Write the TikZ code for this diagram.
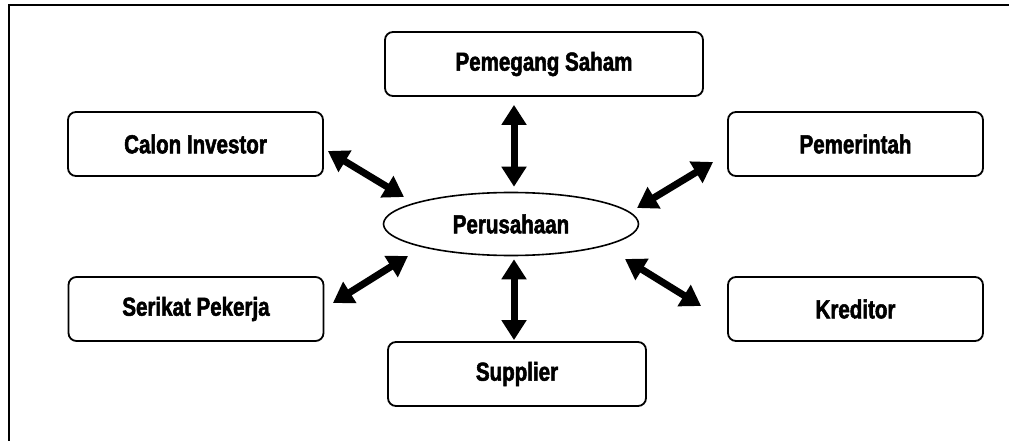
\documentclass[tikz,border=0pt]{standalone}
\usepackage{fontspec}
\setmainfont{Liberation Sans}[FakeStretch=0.8]
\newfontfamily\labelfont{Liberation Sans Bold}[FakeStretch=0.79, FakeBold=2]
\usetikzlibrary{arrows.meta,calc,shapes.geometric}

\tikzset{
  party/.style={draw, line width=1.8pt, rounded corners=8pt, fill=white,
    minimum width=255pt, minimum height=64pt, inner sep=0pt,
    font=\labelfont\fontsize{26}{31}\selectfont},
  firm/.style={draw, line width=1.6pt, ellipse, fill=white,
    minimum width=255pt, minimum height=63pt, inner sep=0pt,
    font=\labelfont\fontsize{26}{31}\selectfont},
  link/.style={line width=7pt,
    {Triangle[length=20pt,width=24pt]}-{Triangle[length=20pt,width=24pt]}},
  frameline/.style={line width=2.2pt}
}

\begin{document}
\begin{tikzpicture}[x=1pt, y=-1pt]
  \useasboundingbox (0,0) rectangle (1009,441);

  % outer frame (open towards the right and the bottom)
  \coordinate (fr-tl) at (8.7,5.2);
  \coordinate (fr-tr) at (1009,5.2);
  \coordinate (fr-bl) at (8.7,441);
  \draw[frameline] (fr-bl) -- (fr-tl) -- (fr-tr);

  % central company and its stakeholders
  \node[firm]  (per) at (511,224)   {Perusahaan};
  \node[party, minimum width=318pt] (ps) at (544,64) {Pemegang Saham};
  \node[party] (ci)  at (195.5,144) {Calon Investor};
  \node[party] (pm)  at (855.5,144) {Pemerintah};
  \node[party] (sp)  at (196,309)   {Serikat Pekerja};
  \node[party] (kr)  at (855.5,309) {Kreditor};
  \node[party, minimum width=258pt] (su) at (517,374) {Supplier};

  % two-way relations
  \draw[link] ($(ps.south)+(-30,8)$) -- ($(per.north)+(3,-5)$);
  \draw[link] ($(per.south)+(3,3)$)  -- ($(su.north)+(-3,-1)$);
  \draw[link] ($(ci.east)+(4,7)$)    -- ($(per.center)+(-107,-27)$);
  \draw[link] ($(pm.west)+(-14,18)$) -- ($(per.center)+(126,-16)$);
  \draw[link] ($(sp.east)+(8.5,-6)$) -- ($(per.center)+(-103,32)$);
  \draw[link] ($(kr.west)+(-26,-3)$) -- ($(per.center)+(114,35)$);
\end{tikzpicture}
\end{document}
